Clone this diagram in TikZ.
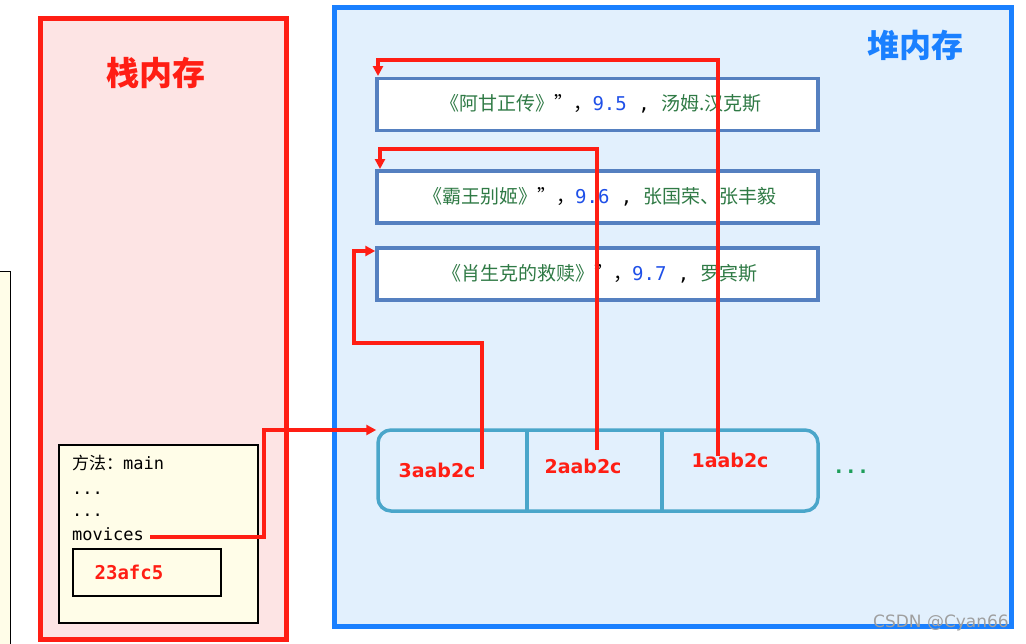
\documentclass[tikz,border=0pt]{standalone}
\usepackage{fontspec}
\setmainfont{DejaVu Sans}
\newfontfamily\cjk{Noto Sans CJK SC}
\newfontfamily\mono{DejaVu Sans Mono}
\usetikzlibrary{arrows.meta}
\definecolor{stackfill}{HTML}{FDE4E4}
\definecolor{stackred}{HTML}{FF1E14}
\definecolor{heapfill}{HTML}{E2F0FD}
\definecolor{heapblue}{HTML}{1A80FF}
\definecolor{moviebd}{HTML}{5580C0}
\definecolor{arrbd}{HTML}{4AA6CA}
\definecolor{mgreen}{HTML}{2F7A45}
\definecolor{nblue}{HTML}{1F50E8}
\definecolor{frameyel}{HTML}{FFFDE8}
\definecolor{dotgreen}{HTML}{1E9E5A}
\tikzset{
  moviebox/.style={draw=moviebd, line width=3.5pt, fill=white, minimum width=441pt, minimum height=52pt, inner sep=0pt},
  refline/.style={draw=stackred, line width=3.5pt, -{Triangle[length=10pt,width=10pt]}},
  addr/.style={text=stackred, font=\fontsize{19}{19}\selectfont\bfseries, inner sep=0pt},
  movtext/.style={font=\fontsize{19}{19}\selectfont, inner sep=0pt},
  code/.style={font=\fontsize{17}{17}\selectfont\mono, inner sep=0pt, anchor=base west}
}
\begin{document}
\begin{tikzpicture}[x=1pt,y=-1pt]
\useasboundingbox (0,0) rectangle (1026,643);
\fill[white] (0,0) rectangle (1026,643);
% partial box at left edge
\draw[black, line width=1pt, fill=frameyel] (-5,271) rectangle (10,650);
% stack memory
\node[draw=stackred, fill=stackfill, line width=4.5pt, minimum width=246pt, minimum height=621pt, inner sep=0pt] (stack) at (163.5,329) {};
\node[text=stackred, font=\fontsize{33}{33}\selectfont\cjk\bfseries] (stitle) at (156,73) {栈内存};
% heap memory
\node[draw=heapblue, fill=heapfill, line width=4.5pt, minimum width=677pt, minimum height=619pt, inner sep=0pt] (heap) at (673,317) {};
\node[text=heapblue, font=\fontsize{32}{32}\selectfont\cjk\bfseries] (htitle) at (915,45) {堆内存};
% movie objects
\node[moviebox] (mv1) at (597.5,104.5) {};
\node[moviebox] (mv2) at (597.5,197) {};
\node[moviebox] (mv3) at (597.5,274) {};
\node[movtext] (t1) at (601,104) {{\color{mgreen}\cjk 《阿甘正传》}{\cjk ”，}{\color{nblue}\mono 9.5}{\mono\ , }{\color{mgreen}\cjk 汤姆.汉克斯}};
\node[movtext] (t2) at (600,197) {{\color{mgreen}\cjk 《霸王别姬》}{\cjk ”，}{\color{nblue}\mono 9.6}{\mono\ , }{\color{mgreen}\cjk 张国荣、张丰毅}};
\node[movtext] (t3) at (600,274) {{\color{mgreen}\cjk 《肖生克的救赎》}{\cjk ”，}{\color{nblue}\mono 9.7}{\mono\ , }{\color{mgreen}\cjk 罗宾斯}};
% array
\node[draw=arrbd, line width=3.5pt, fill=heapfill, rounded corners=13pt, minimum width=440pt, minimum height=81pt, inner sep=0pt] (arr) at (598,470.5) {};
\draw[arrbd, line width=3.5pt] (527,430) -- (527,511) (662,430) -- (662,511);
\node[addr] (a3) at (437,470) {3aab2c};
\node[addr] (a2) at (583,466) {2aab2c};
\node[addr] (a1) at (730,460) {1aab2c};
\node[text=dotgreen, font=\fontsize{20}{20}\selectfont\mono\bfseries, inner sep=0pt] (dots) at (851,472) {...};
% stack frame
\node[draw=black, line width=1.8pt, fill=frameyel, minimum width=199pt, minimum height=178pt, inner sep=0pt] (frame) at (158.5,534) {};
\node[code] (l1) at (72,469) {{\cjk 方法：}main};
\node[code] (l2) at (72,494) {...};
\node[code] (l3) at (72,516) {...};
\node[code] (mov) at (72,540) {movices};
\node[draw=black, line width=1.8pt, minimum width=148pt, minimum height=47pt, inner sep=0pt] (var) at (147,572.5) {};
\node[text=stackred, font=\fontsize{19}{19}\selectfont\mono\bfseries, inner sep=0pt] (vt) at (129,572) {23afc5};
% references
\coordinate (s1) at (150,537);
\coordinate (s3) at (482,469);
\coordinate (s2) at (597,450);
\coordinate (s4) at (718,456);
\draw[refline] (s1) -- (264,537) -- (264,430) -- (arr.west |- 0,430);
\draw[refline] (s3) -- (482,343) -- (354,343) -- (354,251) -- (mv3.west |- 0,251);
\draw[refline] (s2) -- (597,149) -- (380,149) -- (380,169);
\draw[refline] (s4) -- (718,60) -- (378,60) -- (378,76);
% watermark
\node[text=gray!75, font=\fontsize{17}{17}\selectfont, inner sep=0pt] (wm) at (941,623) {CSDN @Cyan66};
\end{tikzpicture}
\end{document}
